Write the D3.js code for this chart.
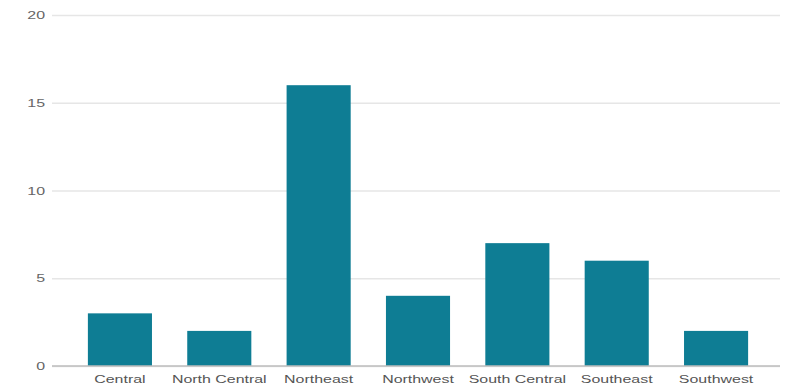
<!DOCTYPE html>
<html>
<head>
<meta charset="utf-8">
<script src="https://cdn.jsdelivr.net/npm/d3@7/dist/d3.min.js"></script>
<style>
  html, body { margin: 0; padding: 0; background: #fff; }
  svg { display: block; font-family: Roboto, "Noto Sans", sans-serif; }
</style>
</head>
<body>
<svg id="chart" width="785" height="392"></svg>
<script>
// Count of records per region
const regions = ["Central", "North Central", "Northeast", "Northwest", "South Central", "Southeast", "Southwest"];
const counts = [3, 2, 16, 4, 7, 6, 2];
const yTicks = [0, 5, 10, 15, 20];

const svg = d3.select("#chart");
const plot = { left: 52, right: 780, top: 15, bottom: 366 };
const stretch = 1.45; // wide lettering

const x = d3.scaleBand()
  .domain(regions)
  .range([70, 766])
  .paddingInner(0.355)
  .paddingOuter(0.18);

const y = d3.scaleLinear()
  .domain([0, 20])
  .range([plot.bottom, plot.top]);

// Horizontal gridlines with value labels
const yAxis = d3.axisLeft(y)
  .tickValues(yTicks)
  .tickSize(-(plot.right - plot.left))
  .tickFormat(d3.format("d"));

const gy = svg.append("g")
  .attr("transform", `translate(${plot.left},0)`)
  .call(yAxis);
gy.select(".domain").remove();
gy.selectAll(".tick line").attr("stroke", "#e6e6e6").attr("stroke-width", 1.5);
gy.selectAll(".tick text")
  .attr("x", -7 / stretch)
  .attr("transform", `scale(${stretch},1)`)
  .attr("fill", "#666")
  .attr("font-size", 11);

// Bars
svg.append("g")
  .selectAll("rect")
  .data(regions.map((r, i) => ({ region: r, value: counts[i] })))
  .join("rect")
  .attr("x", d => x(d.region))
  .attr("y", d => y(d.value))
  .attr("width", x.bandwidth())
  .attr("height", d => y(0) - y(d.value))
  .attr("fill", "#0e7d94");

// Baseline and category labels
const xAxis = d3.axisBottom(x).tickSize(0).tickPadding(9);
const gx = svg.append("g")
  .attr("transform", `translate(0,${plot.bottom})`)
  .call(xAxis);
gx.select(".domain").remove();
gx.selectAll(".tick text")
  .attr("transform", `scale(${stretch},1)`)
  .attr("fill", "#555")
  .attr("font-size", 11);

svg.append("line")
  .attr("x1", plot.left).attr("x2", plot.right)
  .attr("y1", y(0)).attr("y2", y(0))
  .attr("stroke", "#bdbdbd")
  .attr("stroke-width", 1.5);
</script>
</body>
</html>
